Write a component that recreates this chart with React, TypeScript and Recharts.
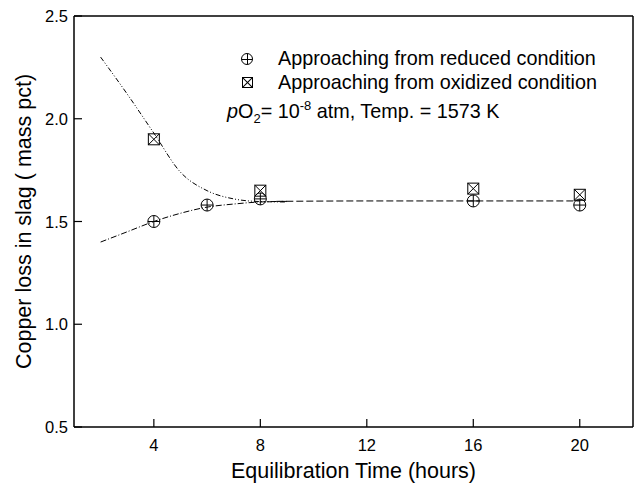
import {
  ComposedChart,
  Line,
  Scatter,
  XAxis,
  YAxis,
  Legend,
  Label,
} from "recharts";

// measured points
const reducedHours = [4, 6, 8, 16, 20];
const reducedLoss = [1.5, 1.58, 1.61, 1.6, 1.58];
const oxidizedHours = [4, 8, 16, 20];
const oxidizedLoss = [1.9, 1.65, 1.66, 1.63];

// guide curves
const upperCurveHours = [2, 3, 4, 5, 6, 7, 8, 9];
const upperCurveLoss = [2.3, 2.12, 1.93, 1.74, 1.65, 1.61, 1.597, 1.595];
const lowerCurveHours = [2, 3, 4, 5, 6, 7, 8, 9];
const lowerCurveLoss = [1.4, 1.45, 1.5, 1.54, 1.57, 1.585, 1.595, 1.598];
const plateauHours = [8.6, 12, 16, 20];
const plateauLoss = [1.598, 1.6, 1.6, 1.6];

const xTicks = [4, 8, 12, 16, 20];
const yTicks = [0.5, 1.0, 1.5, 2.0, 2.5];
const xDomain = [1, 22];
const yDomain = [0.5, 2.5];

const FONT = '"Liberation Sans", Arial, sans-serif';
const TICK_LEN = 8;
const X_MARGIN = 10;
const Y_MARGIN = 6;

const toPoints = (xs: number[], ys: number[]) =>
  xs.map((x, i) => ({ x, y: ys[i] }));

const CirclePlus = ({ cx, cy }: any) => (
  <g>
    <circle cx={cx} cy={cy} r={6} fill="none" stroke="#000" strokeWidth={1} />
    <line x1={cx - 6} y1={cy} x2={cx + 6} y2={cy} stroke="#000" strokeWidth={1} />
    <line x1={cx} y1={cy - 6} x2={cx} y2={cy + 6} stroke="#000" strokeWidth={1} />
  </g>
);

const SquareCross = ({ cx, cy }: any) => (
  <g>
    <rect x={cx - 5.5} y={cy - 5.5} width={11} height={11} fill="none" stroke="#000" strokeWidth={1} />
    <line x1={cx - 5.5} y1={cy - 5.5} x2={cx + 5.5} y2={cy + 5.5} stroke="#000" strokeWidth={1} />
    <line x1={cx + 5.5} y1={cy - 5.5} x2={cx - 5.5} y2={cy + 5.5} stroke="#000" strokeWidth={1} />
  </g>
);

// inward tick marks, placed through the chart scales
const XTickMark = ({ cx, cy }: any) => (
  <line x1={cx} y1={cy} x2={cx} y2={cy - TICK_LEN} stroke="#000" strokeWidth={1.2} />
);
const YTickMark = ({ cx, cy }: any) => (
  <line x1={cx} y1={cy} x2={cx + TICK_LEN} y2={cy} stroke="#000" strokeWidth={1.2} />
);

const XTick = ({ x, y, payload }: any) => (
  <text x={x} y={y - X_MARGIN + 24} textAnchor="middle" fontSize={16.5} fontFamily={FONT} fill="#000">
    {payload.value}
  </text>
);

const YTick = ({ x, y, payload }: any) => (
  <text x={x} y={y + 6} textAnchor="end" fontSize={16.5} fontFamily={FONT} fill="#000">
    {Number(payload.value).toFixed(1)}
  </text>
);

const XTitle = ({ viewBox }: any) => (
  <text
    x={viewBox.x + viewBox.width / 2}
    y={viewBox.y + 51}
    textAnchor="middle"
    fontSize={21.5}
    fontFamily={FONT}
    fill="#000"
  >
    Equilibration Time (hours)
  </text>
);

const YTitle = ({ viewBox }: any) => {
  const cx = viewBox.x + 31;
  const cy = viewBox.y + viewBox.height / 2;
  return (
    <text
      x={cx}
      y={cy}
      transform={`rotate(-90, ${cx}, ${cy})`}
      textAnchor="middle"
      fontSize={21.5}
      fontFamily={FONT}
      fill="#000"
    >
      Copper loss in slag ( mass pct)
    </text>
  );
};

const bar = (extra: any) => ({
  position: "absolute" as const,
  background: "#000",
  ...extra,
});

const LegendBox = () => (
  <div
    style={{
      position: "relative",
      width: 634,
      height: 483,
      fontFamily: FONT,
      color: "#000",
      textAlign: "left",
    }}
  >
    <div
      style={{
        position: "absolute",
        left: 241,
        top: 53,
        width: 12,
        height: 12,
        border: "1px solid #000",
        borderRadius: "50%",
        boxSizing: "border-box",
      }}
    >
      <div style={bar({ left: 0, top: 5, width: 10, height: 1 })} />
      <div style={bar({ left: 5, top: 0, width: 1, height: 10 })} />
    </div>
    <div
      style={{
        position: "absolute",
        left: 241.5,
        top: 76.5,
        width: 11,
        height: 11,
        border: "1px solid #000",
        boxSizing: "border-box",
        overflow: "hidden",
      }}
    >
      <div style={bar({ left: -2, top: 4, width: 13, height: 1, transform: "rotate(45deg)" })} />
      <div style={bar({ left: -2, top: 4, width: 13, height: 1, transform: "rotate(-45deg)" })} />
    </div>
    <div
      style={{
        position: "absolute",
        left: 278,
        top: 47,
        fontSize: 19.8,
        lineHeight: "23.5px",
        whiteSpace: "nowrap",
      }}
    >
      <div>Approaching from reduced condition</div>
      <div>Approaching from oxidized condition</div>
    </div>
    <div
      style={{
        position: "absolute",
        left: 227,
        top: 94,
        fontSize: 19.8,
        lineHeight: "23.5px",
        whiteSpace: "nowrap",
      }}
    >
      <span style={{ fontStyle: "italic" }}>p</span>O
      <span style={{ fontSize: 13, verticalAlign: "-5px" }}>2</span>= 10
      <span style={{ fontSize: 13, verticalAlign: "8px" }}>-8</span> atm, Temp. = 1573 K
    </div>
  </div>
);

const App = () => {
  const reduced = toPoints(reducedHours, reducedLoss);
  const oxidized = toPoints(oxidizedHours, oxidizedLoss);
  const upper = toPoints(upperCurveHours, upperCurveLoss);
  const lower = toPoints(lowerCurveHours, lowerCurveLoss);
  const plateau = toPoints(plateauHours, plateauLoss);

  // frame (top and right edges) and tick marks from the axis values
  const topEdge = toPoints(xDomain, [yDomain[1], yDomain[1]]);
  const rightEdge = toPoints([xDomain[1], xDomain[1]], yDomain);
  const xTickMarks = xTicks.map((x) => ({ x, y: yDomain[0] }));
  const yTickMarks = yTicks.map((y) => ({ x: xDomain[0], y }));

  return (
    <div
      style={{
        position: "absolute",
        left: 0,
        top: 0,
        width: 634,
        height: 483,
        background: "#fff",
      }}
    >
      <ComposedChart
        width={634}
        height={483}
        margin={{ top: 16, right: 1, bottom: 0, left: 0 }}
      >
        <XAxis
          dataKey="x"
          type="number"
          domain={xDomain}
          ticks={xTicks}
          height={56}
          tick={XTick}
          tickSize={0}
          tickMargin={X_MARGIN}
          tickLine={false}
          axisLine={{ stroke: "#000", strokeWidth: 1.5 }}
        >
          <Label content={XTitle} />
        </XAxis>
        <YAxis
          type="number"
          domain={yDomain}
          ticks={yTicks}
          width={74}
          tick={YTick}
          tickSize={0}
          tickMargin={Y_MARGIN}
          tickLine={false}
          axisLine={{ stroke: "#000", strokeWidth: 1.5 }}
        >
          <Label content={YTitle} />
        </YAxis>

        <Line
          data={topEdge}
          dataKey="y"
          stroke="#000"
          strokeWidth={1.5}
          dot={false}
          activeDot={false}
          legendType="none"
          isAnimationActive={false}
        />
        <Line
          data={rightEdge}
          dataKey="y"
          stroke="#000"
          strokeWidth={1.5}
          dot={false}
          activeDot={false}
          legendType="none"
          isAnimationActive={false}
        />
        <Scatter
          data={xTickMarks}
          dataKey="y"
          shape={XTickMark}
          legendType="none"
          isAnimationActive={false}
        />
        <Scatter
          data={yTickMarks}
          dataKey="y"
          shape={YTickMark}
          legendType="none"
          isAnimationActive={false}
        />

        <Line
          data={upper}
          dataKey="y"
          type="monotone"
          stroke="#000"
          strokeWidth={1}
          strokeDasharray="5 2 1 2 1 2"
          dot={false}
          activeDot={false}
          legendType="none"
          isAnimationActive={false}
        />
        <Line
          data={lower}
          dataKey="y"
          type="monotone"
          stroke="#000"
          strokeWidth={1}
          strokeDasharray="6 2 1 2"
          dot={false}
          activeDot={false}
          legendType="none"
          isAnimationActive={false}
        />
        <Line
          data={plateau}
          dataKey="y"
          type="monotone"
          stroke="#000"
          strokeWidth={1}
          strokeDasharray="7 3"
          dot={false}
          activeDot={false}
          legendType="none"
          isAnimationActive={false}
        />
        <Scatter
          data={reduced}
          dataKey="y"
          name="Approaching from reduced condition"
          shape={CirclePlus}
          isAnimationActive={false}
        />
        <Scatter
          data={oxidized}
          dataKey="y"
          name="Approaching from oxidized condition"
          shape={SquareCross}
          isAnimationActive={false}
        />

        <Legend
          layout="vertical"
          align="center"
          verticalAlign="middle"
          wrapperStyle={{ left: 0, top: 0, width: 634, height: 483, pointerEvents: "none" }}
          content={() => <LegendBox />}
        />
      </ComposedChart>
    </div>
  );
};

export default App;
